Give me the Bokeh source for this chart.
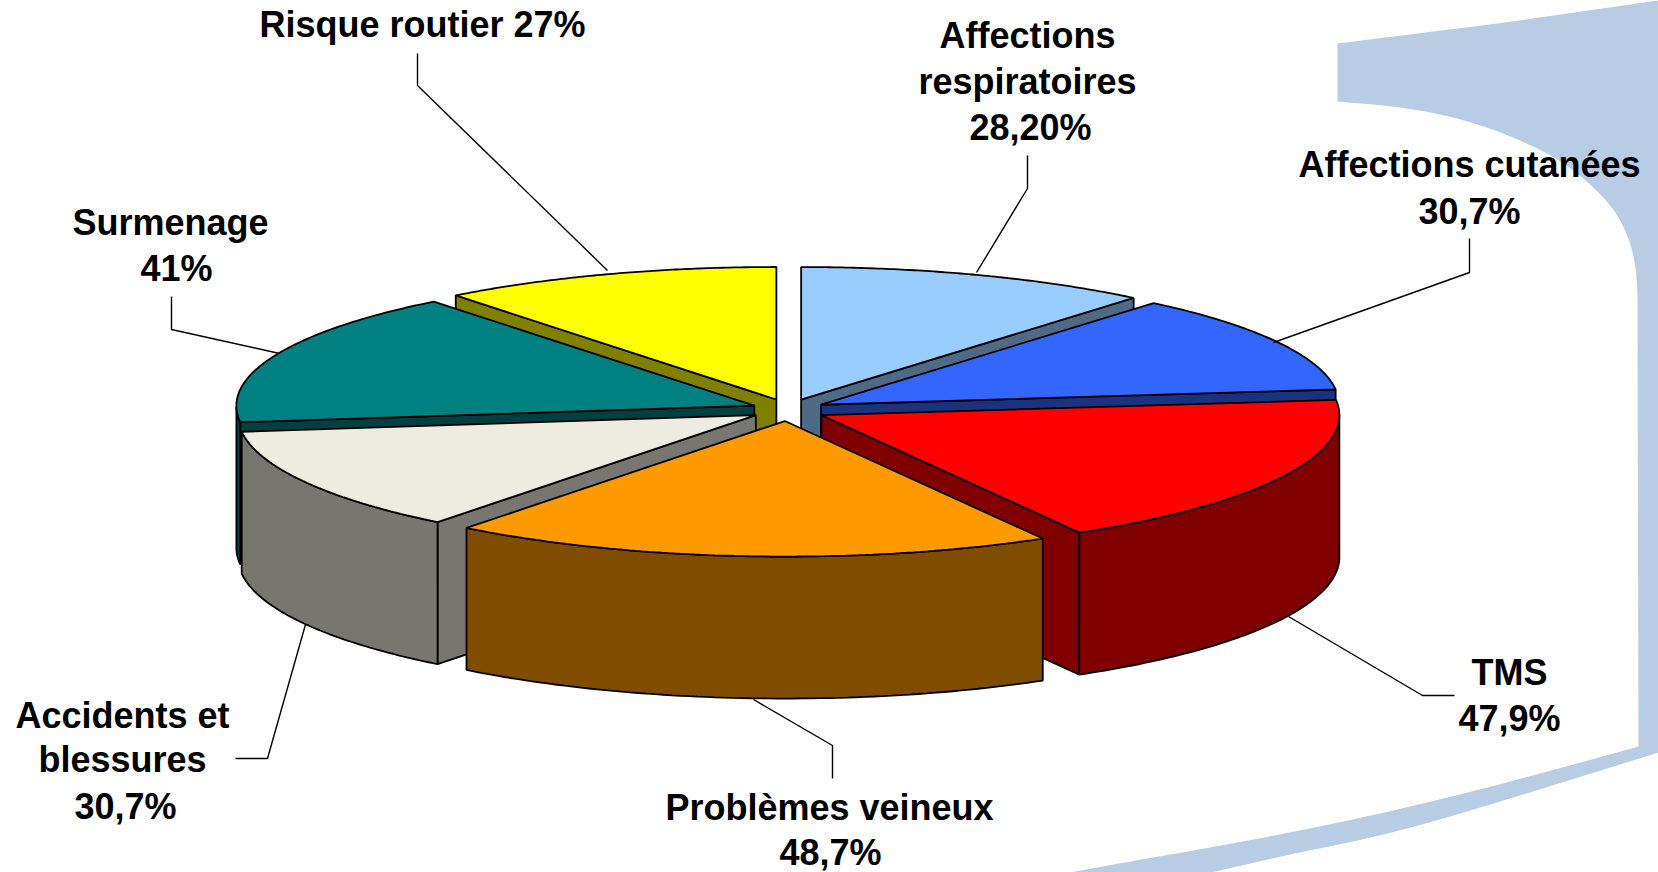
import numpy as np
from bokeh.plotting import figure
from bokeh.embed import file_html
from bokeh.resources import INLINE
from bokeh.core.properties import value

# ---- data ----
categories = ["Affections respiratoires", "Affections cutanées", "TMS", "Problèmes veineux",
              "Accidents et blessures", "Surmenage", "Risque routier"]
values = [28.2, 30.7, 47.9, 48.7, 30.7, 41.0, 27.0]
top_colors = ["#99CCFF", "#3366FF", "#FF0000", "#FF9900", "#EEECE1", "#008080", "#FFFF00"]
side_colors = ["#4F6A85", "#1A3380", "#800000", "#804D00", "#777670", "#004040", "#808000"]
label_lines = [["Affections", "respiratoires", "28,20%"], ["Affections cutanées", "30,7%"], ["TMS", "47,9%"],
               ["Problèmes veineux", "48,7%"], ["Accidents et", "blessures", "30,7%"], ["Surmenage", "41%"],
               ["Risque routier 27%"]]
# per-line centre x and centre y, in reference pixels
label_x = [[1027, 1027, 1030], [1469, 1469], [1509, 1509], [829, 830], [122, 122, 125], [170, 176], [422]]
label_y = [[35, 81, 127], [164, 211], [672, 718], [807, 851.5], [715, 759, 806], [222, 268], [24]]
leader_x = [[1027, 1027, 976], [1469, 1469, 1273], [1454, 1422, 1288], [832, 832, 753],
            [235, 267, 305], [171, 171, 279], [417, 417, 607]]
leader_y = [[155, 188, 272], [238, 272, 342], [695, 695, 616], [778, 745, 699],
            [758, 758, 624], [296, 329, 353], [53, 85, 270]]
swoosh_top_x = [1337, 1497, 1658]
swoosh_top_y = [43, 23, 0]
swoosh_outer_x = [1658, 1555, 1441, 1364, 1288, 1211]
swoosh_outer_y = [752, 784, 819, 839, 854, 872]
swoosh_inner_x = [1069, 1135, 1211, 1326, 1441, 1555, 1638]
swoosh_inner_y = [872, 860, 847, 825, 799, 769, 746]
swoosh_bend_x = [1637, 1637, 1630, 1613, 1583, 1547, 1497, 1447, 1397, 1337]
swoosh_bend_y = [330, 277, 240, 207, 177, 152, 130, 115, 106, 101]

# ---- geometry of the 3D pie ----
CX, CY = 788.0, 409.5
RX, RY_BACK, RY_FRONT = 518.0, 132.5, 135.5
EX, EY = 37.0, 11.1
DEPTH = 142.0


def smooth(xs, ys, rounds=3):
    pts = np.column_stack([xs, ys]).astype(float)
    for _ in range(rounds):
        q = 0.75 * pts[:-1] + 0.25 * pts[1:]
        r = 0.25 * pts[:-1] + 0.75 * pts[1:]
        mid = np.empty((2 * len(q), 2))
        mid[0::2], mid[1::2] = q, r
        pts = np.vstack([pts[0], mid, pts[-1]])
    return pts[:, 0], pts[:, 1]


def warp(t):
    # the picture's perspective pulls the front corners slightly towards the viewer
    return t - 2.3 * np.exp(-((t - 220.0) / 40.0) ** 2) - 1.0 * np.exp(-((t - 151.0) / 30.0) ** 2)


def rim(t, ax, ay):
    a = np.radians(warp(np.asarray(t, dtype=float)))
    c = np.cos(a)
    return ax + RX * np.sin(a), ay - np.where(c > 0, RY_BACK, RY_FRONT) * c


p = figure(width=1658, height=872, x_range=(0, 1658), y_range=(872, 0),
           output_backend="svg", toolbar_location=None, min_border=0)
p.axis.visible = False
p.grid.visible = False
p.outline_line_color = None
p.background_fill_color = "white"
p.border_fill_color = "white"

ox, oy = smooth(swoosh_outer_x, swoosh_outer_y)
ix, iy = smooth(swoosh_inner_x, swoosh_inner_y)
bx, by = smooth(swoosh_bend_x, swoosh_bend_y)
p.patch(np.r_[swoosh_top_x, ox, ix, bx], np.r_[swoosh_top_y, oy, iy, by], fill_color="#B8CCE4", line_color=None)

total = sum(values)
edges = np.concatenate([[0.0], np.cumsum(values) * 360.0 / total])
order = [0, 6, 1, 5, 2, 4, 3]  # painter's order: back to front
LW = 1.8

for i in order:
    s, e = edges[i], edges[i + 1]
    m = (s + e) / 2
    ax = CX + EX * np.sin(np.radians(m))
    ay = CY - EY * np.cos(np.radians(m))
    ts = np.linspace(s, e, 90)
    rx, ry = rim(ts, ax, ay)

    # radial walls facing the viewer
    for t, show in ((s, np.sin(np.radians(s)) < -1e-6), (e, np.sin(np.radians(e)) > 1e-6)):
        if show:
            wx, wy = rim([t], ax, ay)
            p.patch([ax, wx[0], wx[0], ax], [ay, wy[0], wy[0] + DEPTH, ay + DEPTH],
                    fill_color=side_colors[i], line_color="black", line_width=LW)

    # outer wall: only the front half of the rim
    lo, hi = max(s, 90.0), min(e, 270.0)
    if hi > lo:
        tf = np.linspace(lo, hi, 70)
        fx, fy = rim(tf, ax, ay)
        p.patch(np.r_[fx, fx[::-1]], np.r_[fy, fy[::-1] + DEPTH],
                fill_color=side_colors[i], line_color="black", line_width=LW)

    # top face
    p.patch(np.r_[ax, rx], np.r_[ay, ry], fill_color=top_colors[i], line_color="black", line_width=LW)

# leader lines
p.multi_line(leader_x, leader_y, line_color="black", line_width=1.4)

# labels
for lines, lxs, lys in zip(label_lines, label_x, label_y):
    p.text(lxs, lys, text=lines, text_font=value("Liberation Sans"), text_font_style="bold",
           text_font_size="36px", text_align="center", text_baseline="middle", text_color="black")

open("out.html", "w").write(file_html(p, INLINE))
